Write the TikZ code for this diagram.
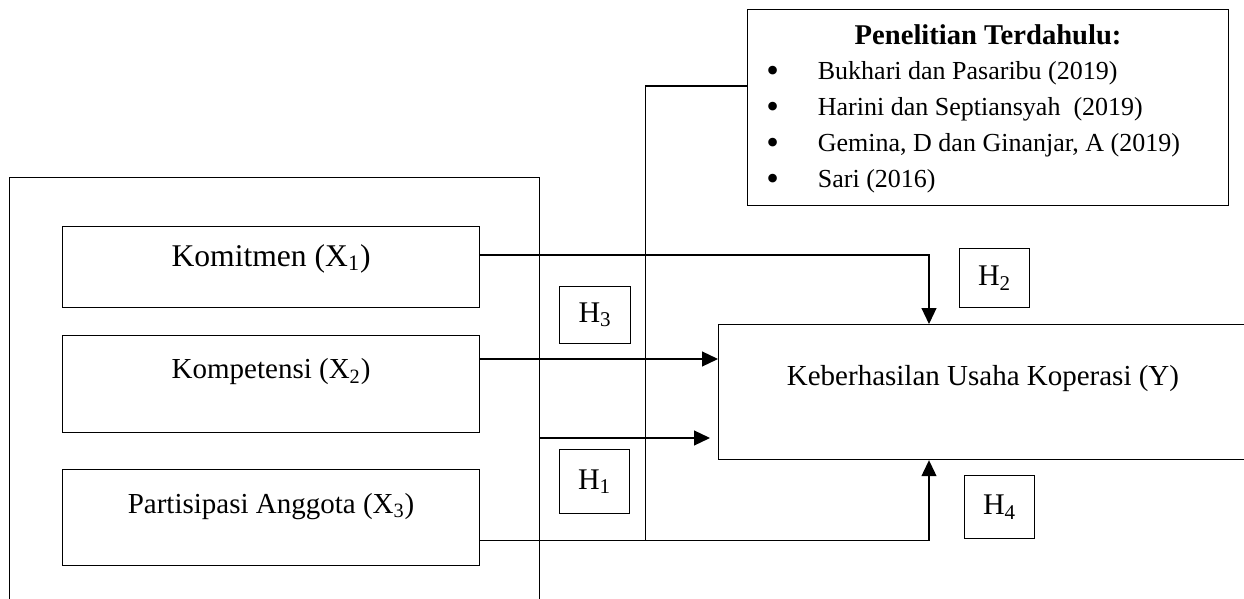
\documentclass[tikz,border=0pt]{standalone}
\usepackage{fontspec}
\setmainfont{Liberation Serif}
\usetikzlibrary{positioning,calc,arrows.meta}

\newcommand*\pxunit{0.5pt}
\newcommand*\bigbullet{\raisebox{-1.5pt}{\fontsize{18}{18}\selectfont •}}
\tikzset{varbox/.style 2 args={
    draw,
    line width=0.6pt,
    rectangle,
    anchor=north west,
    inner sep=0pt,
    font=\fontsize{15}{18}\selectfont,
    minimum width=#1*\pxunit,
    minimum height=#2*\pxunit
}}
\tikzset{varlabel/.style={
    font=\fontsize{14.5}{17}\selectfont,
    anchor=base,
    inner sep=0pt
}}
\tikzset{studyitem/.style={
    font=\fontsize{13}{16}\selectfont,
    anchor=base west,
    inner sep=0pt
}}
\tikzset{link/.style={line width=0.6pt}}
\tikzset{arrowlink/.style={link, -{Triangle[length=8pt,width=7.5pt]}}}

\begin{document}
\begin{tikzpicture}[x=\pxunit,y=-\pxunit]
    \useasboundingbox (0,0) rectangle (1244,599);
    \clip (0,0) rectangle (1244,599);

    % Frame round the three variables, open past the bottom edge.
    \node[varbox={530}{470}] (frame) at (9,177) {};

    % The independent variables.
    \node[varbox={417}{81}] (kom) at (62,226) {};
    \node[varbox={417}{97}] (kmp) at (62,335) {};
    \node[varbox={417}{96}] (par) at (62,469) {};
    \node[varlabel, font=\fontsize{15.8}{18}\selectfont] (komtext) at ($(kom.north)+(0,40)$) {Komitmen (X\textsubscript{1})};
    \node[varlabel] (kmptext) at ($(kmp.north)+(0,44)$) {Kompetensi (X\textsubscript{2})};
    \node[varlabel] (partext) at ($(par.north)+(0,44)$) {Partisipasi Anggota (X\textsubscript{3})};

    % The dependent variable, running past the right edge.
    \node[varbox={560}{135}] (kus) at (718,324) {};
    \node[varlabel] (kustext) at ($(kus.north west)+(265,62)$) {Keberhasilan Usaha Koperasi (Y)};

    % Earlier studies.
    \node[varbox={481}{196}] (pen) at (747,9) {};
    \node[varlabel, font=\bfseries\fontsize{14.3}{17}\selectfont] (pentitle) at ($(pen.north)+(0,36)$) {Penelitian Terdahulu:};
    \foreach \i/\study in {0/Bukhari dan Pasaribu (2019),1/Harini dan Septiansyah\ \ (2019),2/{Gemina, D dan Ginanjar, A (2019)},3/Sari (2016)}
        \node[studyitem] (study\i) at ($(pen.north west)+(19,71+35.7*\i)$) {\makebox[25.75pt][l]{\bigbullet}\study};

    % Hypothesis boxes.
    \node[varbox={71}{57}] (h3) at (559,286) {H\textsubscript{3}};
    \node[varbox={70}{64}] (h1) at (559,449) {H\textsubscript{1}};
    \node[varbox={70}{59}] (h2) at (959,248) {H\textsubscript{2}};
    \node[varbox={70}{63}] (h4) at (964,475) {H\textsubscript{4}};

    % Connectors.
    \coordinate (komout) at ($(kom.north east)+(0,29)$);
    \coordinate (parout) at ($(par.south east)+(0,-26)$);
    \coordinate (join) at ($(parout)+(165,0)$);
    \draw[arrowlink] (komout) -| ($(kus.north west)+(211,0)$);
    \draw[arrowlink] ($(kmp.north east)+(0,24)$) -- ($(kus.north west)+(0,35)$);
    \draw[arrowlink] ($(frame.north east)+(0,261)$) -- ($(kus.north west)+(-8,114)$);
    \draw[arrowlink] (parout) -| ($(kus.south west)+(211,0)$);
    \draw[link] ($(pen.north west)+(0,77)$) -| (join);

\end{tikzpicture}
\end{document}
